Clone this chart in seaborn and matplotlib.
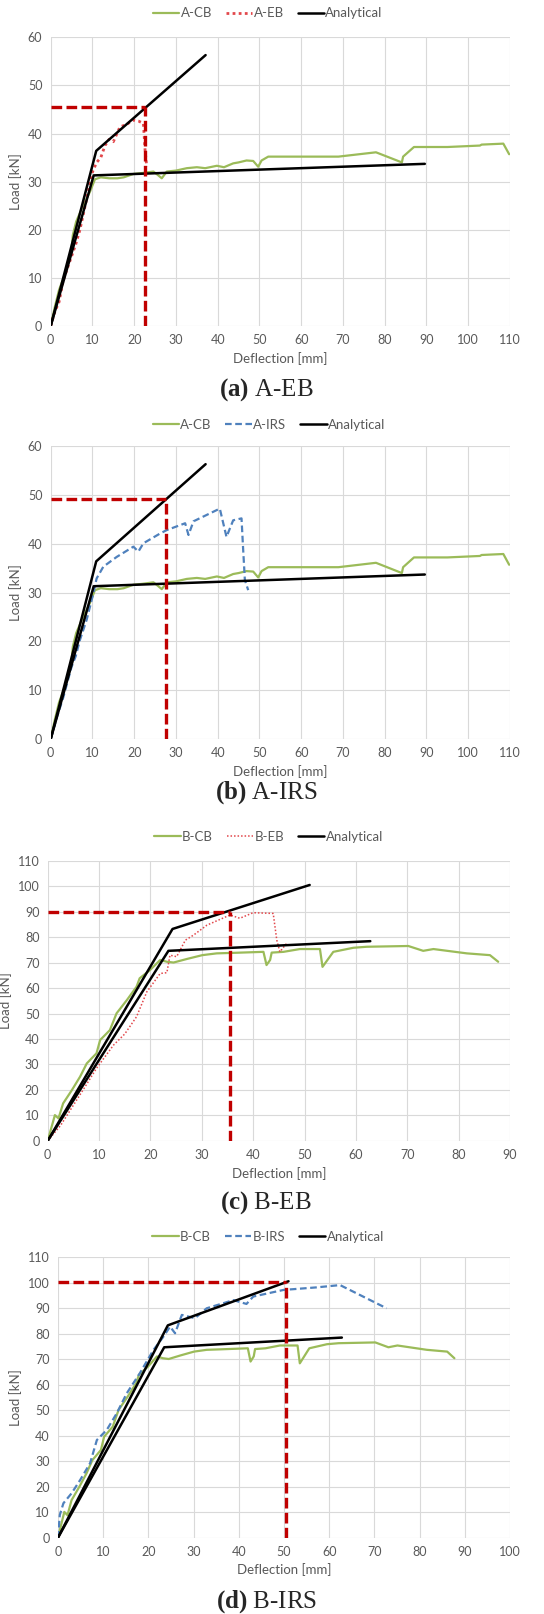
import seaborn as sns
import numpy as np
import matplotlib.pyplot as plt

# Data #

# A-CB control beam
a_cb_x = [0, 1, 2, 3.5, 5, 5.3, 6.1, 7.5, 9.4, 10.6, 12, 14, 16, 17.5, 19.8, 22, 24.6, 25.5, 26.6,
          27.8, 30, 32.6, 35, 37, 39.8, 41.5, 43.7, 45, 46.9, 48.5, 49.7, 50.5, 52.1, 60, 68.9,
          77.9, 84.1, 84.4, 87.0, 95, 102.8, 103.2, 108.4, 109.8]
a_cb_y = [0, 4, 7.5, 11, 16, 18.9, 21.7, 24.5, 27.9, 30.5, 30.9, 30.7, 30.7, 30.9, 31.6, 31.8, 32.1,
          31.5, 30.7, 32.1, 32.3, 32.8, 33.0, 32.8, 33.3, 33.0, 33.8, 34.0, 34.4, 34.3, 33.1, 34.4,
          35.2, 35.2, 35.2, 36.1, 34.0, 35.2, 37.2, 37.2, 37.5, 37.7, 37.9, 35.7]

# A-EB
a_eb_x = [0, 1, 2, 3, 4, 5, 6, 7, 8, 9, 10, 11, 12, 13, 14, 15, 16.6, 18, 19.8, 21, 22.2, 22.6, 23.0]
a_eb_y = [0, 3, 5, 9.5, 12, 14.5, 17, 20, 24, 28, 32, 34, 35, 37.5, 38.8, 38.3, 41.4, 41.8, 42.8,
          42.6, 42.1, 36.6, 33.1]

# A-IRS
a_irs_x = [0, 1.5, 3, 5.0, 6, 7.0, 8.6, 10.2, 11.0, 12.6, 15.8, 19.8, 21.0, 22.2, 26.2, 27.8, 32.2,
           33.0, 34.2, 40.5, 42.1, 43.7, 45.7, 46.1, 46.5, 47.3]
a_irs_y = [0, 4.5, 8.5, 14.8, 17, 20.3, 24.4, 29.8, 32.9, 35.3, 37.3, 39.4, 38.4, 40.1, 42.1, 42.8,
           44.2, 41.8, 44.6, 47.2, 41.4, 44.8, 45.2, 38.7, 32.6, 30.5]

# B-CB control beam
b_cb_x = [0, 1.4, 2.1, 3.0, 4.7, 6.3, 7.6, 9.5, 10.2, 12.1, 13.4, 15.4, 17.3, 17.9, 19.9, 21.9, 23.2,
          24.5, 27.1, 30.1, 32.9, 36.1, 42.0, 42.6, 43.3, 43.6, 45.9, 49.1, 53.0, 53.5, 55.6, 59.5,
          62.1, 70.2, 73.1, 75.1, 81.6, 86.1, 87.7]
b_cb_y = [0, 10.1, 8.8, 14.7, 19.9, 25.2, 30.4, 34.4, 39.6, 43.5, 50.1, 55.3, 60.6, 63.9, 67.1, 71.1,
          70.4, 70.1, 71.5, 73.0, 73.7, 73.9, 74.3, 69.1, 71.1, 74.0, 74.3, 75.4, 75.4, 68.4, 74.3,
          75.9, 76.3, 76.6, 74.7, 75.4, 73.7, 73.0, 70.4]

# B-EB
b_eb_x = [0, 2.5, 5.0, 7.2, 9.5, 12.8, 15, 17.3, 19.3, 21.9, 23.2, 23.8, 25.1, 26.8, 28.4, 31.0, 35.5,
          37.4, 40.0, 43.9, 44.6, 45.2, 46.5]
b_eb_y = [0, 6, 14.0, 21, 28.5, 37.6, 42, 48.8, 58.6, 65.8, 66.1, 73.0, 72.4, 78.9, 80.9, 84.8, 88.8,
          87.5, 89.7, 89.4, 78.9, 74.3, 77.6]

# B-IRS
b_irs_x = [0, 0.4, 1.2, 3.0, 4.9, 7.1, 8.6, 10.8, 13.0, 15.2, 18.1, 21.1, 23.3, 24.8, 25.9, 27.4, 30.3,
           32.9, 38.8, 41.7, 43.2, 49.9, 57.2, 62.4, 72.7]
b_irs_y = [0, 8.9, 13.5, 17.4, 22.6, 29.2, 38.3, 42.3, 48.8, 56.6, 64.5, 73.6, 78.8, 82.8, 80.2, 87.4,
           86.1, 90.0, 93.2, 91.7, 94.6, 97.2, 98.2, 99.1, 90.0]

# Analytical (two branches each)
a_ana1_x, a_ana1_y = [0, 10.9, 37.1], [0, 36.4, 56.3]
a_ana2_x, a_ana2_y = [0, 10.3, 89.6], [0, 31.3, 33.7]
b_ana1_x, b_ana1_y = [0, 24.3, 51.0], [0, 83.3, 100.6]
b_ana2_x, b_ana2_y = [0, 23.5, 62.8], [0, 74.7, 78.5]

# Reference points (red dashed guides)
ref_x = [22.5, 27.5, 35.4, 50.4]
ref_y = [45.6, 49.1, 89.8, 100.3]

captions = [("(a)", "A-EB"), ("(b)", "A-IRS"), ("(c)", "B-EB"), ("(d)", "B-IRS")]

GREEN = "#9BBB59"
RED = "#E2474B"
BLUE = "#4F81BD"
GREY = "#595959"

sns.set_theme(style="whitegrid")
plt.rcParams["font.family"] = ["Lato", "DejaVu Sans"]
plt.rcParams["grid.color"] = "#D9D9D9"
plt.rcParams["grid.linewidth"] = 0.8
plt.rcParams["mathtext.fontset"] = "custom"
plt.rcParams["mathtext.rm"] = "Liberation Serif"
plt.rcParams["mathtext.bf"] = "Liberation Serif:bold"


def draw_panel(ax, cb, test, ana1, ana2, ref, xmax, ymax, leg_anchor):
	sns.lineplot(x=cb[0], y=cb[1], sort=False, estimator=None, color=GREEN, lw=1.6, ax=ax, label=cb[2])
	sns.lineplot(x=test[0], y=test[1], sort=False, estimator=None, color=test[3], lw=test[4],
		linestyle=test[5], ax=ax, label=test[2])
	sns.lineplot(x=ana1[0], y=ana1[1], sort=False, estimator=None, color="black", lw=1.8, ax=ax, label="Analytical")
	sns.lineplot(x=ana2[0], y=ana2[1], sort=False, estimator=None, color="black", lw=1.8, ax=ax)
	rx, ry = ref
	ax.plot([0, rx], [ry, ry], color="#C00000", lw=2.4, dashes=(3.2, 1.3), zorder=5)
	ax.plot([rx, rx], [0, ry], color="#C00000", lw=2.4, dashes=(3.2, 1.3), zorder=5)

	ax.set_xlim(0, xmax)
	ax.set_ylim(0, ymax)
	ax.set_xticks(np.arange(0, xmax + 1, 10))
	ax.set_yticks(np.arange(0, ymax + 1, 10))
	ax.tick_params(axis="both", length=0, labelsize=9, labelcolor=GREY)
	ax.tick_params(axis="x", pad=6)
	ax.tick_params(axis="y", pad=6)
	ax.set_xlabel("Deflection [mm]", fontsize=9.5, color=GREY, labelpad=4)
	ax.set_ylabel("Load [kN]", fontsize=9.5, color=GREY, labelpad=4)
	for s in ax.spines.values():
		s.set_visible(False)

	handles, labels = ax.get_legend_handles_labels()
	leg = ax.legend(handles, labels, loc="center", bbox_to_anchor=leg_anchor, ncol=3, frameon=False,
		fontsize=9.5, handlelength=2.0, handletextpad=0.1, columnspacing=1.05)
	for t in leg.get_texts():
		t.set_color(GREY)


fig = plt.figure(figsize=(5.44, 16.14), dpi=100)

boxes = [
	[0.0932, 0.7980, 0.8443, 0.1789],
	[0.0932, 0.5421, 0.8443, 0.1815],
	[0.0877, 0.2932, 0.8498, 0.1733],
	[0.1066, 0.0473, 0.8309, 0.1737],
]
cap_y = [0.7584, 0.5087, 0.2549, 0.0080]
cap_x = [0.489, 0.489, 0.489, 0.490]

ax = fig.add_axes(boxes[0])
draw_panel(ax, (a_cb_x, a_cb_y, "A-CB"), (a_eb_x, a_eb_y, "A-EB", RED, 2.0, (0, (1, 1.2))),
	(a_ana1_x, a_ana1_y), (a_ana2_x, a_ana2_y), (ref_x[0], ref_y[0]), 110, 60, (0.473, 1.083))

ax = fig.add_axes(boxes[1])
draw_panel(ax, (a_cb_x, a_cb_y, "A-CB"), (a_irs_x, a_irs_y, "A-IRS", BLUE, 1.6, (0, (3, 1.6))),
	(a_ana1_x, a_ana1_y), (a_ana2_x, a_ana2_y), (ref_x[1], ref_y[1]), 110, 60, (0.475, 1.072))

ax = fig.add_axes(boxes[2])
draw_panel(ax, (b_cb_x, b_cb_y, "B-CB"), (b_eb_x, b_eb_y, "B-EB", RED, 1.1, (0, (1, 1.3))),
	(b_ana1_x, b_ana1_y), (b_ana2_x, b_ana2_y), (ref_x[2], ref_y[2]), 90, 110, (0.478, 1.087))

ax = fig.add_axes(boxes[3])
draw_panel(ax, (b_cb_x, b_cb_y, "B-CB"), (b_irs_x, b_irs_y, "B-IRS", BLUE, 1.6, (0, (3, 1.6))),
	(b_ana1_x, b_ana1_y), (b_ana2_x, b_ana2_y), (ref_x[3], ref_y[3]), 100, 110, (0.465, 1.074))

for (tag, name), x, y in zip(captions, cap_x, cap_y):
	fig.text(x, y, r"$\mathbf{" + tag + "}$ " + name, ha="center", va="center", fontsize=18,
		family="Liberation Serif")

fig.savefig("out.png", dpi=100)
